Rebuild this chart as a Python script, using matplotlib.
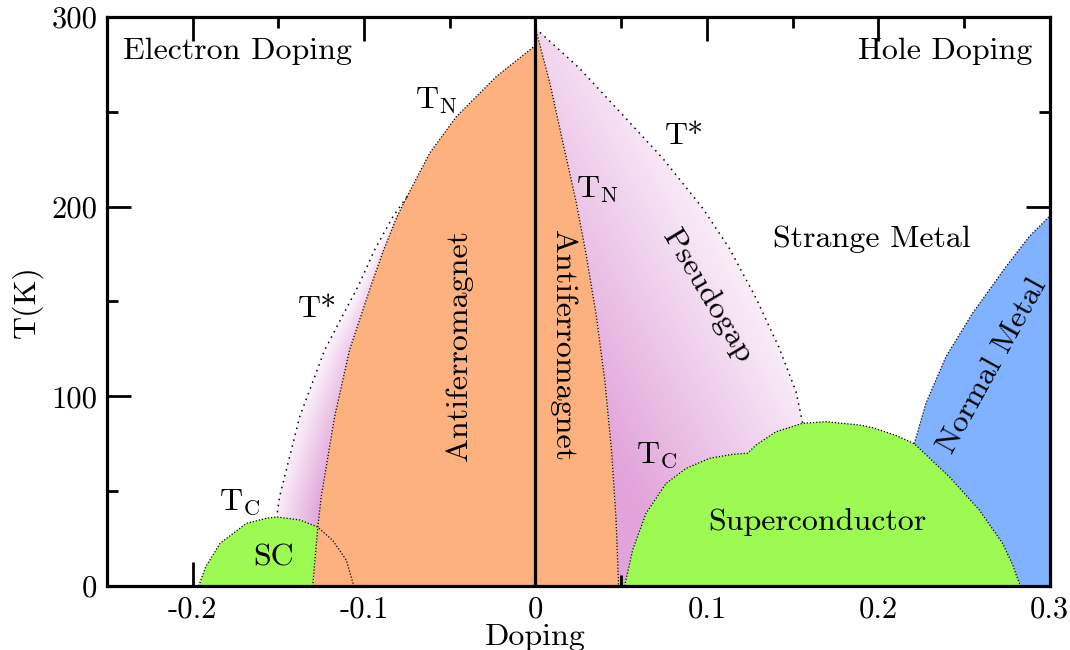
import numpy as np
import matplotlib.pyplot as plt
from matplotlib.patches import Polygon
from matplotlib.colors import to_rgb

plt.rcParams['font.family'] = 'cmr10'
plt.rcParams['mathtext.fontset'] = 'cm'
plt.rcParams['axes.unicode_minus'] = False

# Phase boundaries (doping, temperature in K)
# electron side Neel line
tn_e_x = [0.0, -0.0229, -0.0462, -0.0618, -0.0750, -0.0808, -0.0886, -0.0955, -0.1085, -0.1172, -0.125, -0.127, -0.130]
tn_e_T = [285, 268.5, 247.4, 228.1, 205.2, 194.7, 177.1, 159.6, 124.4, 89.2, 47.1, 31, 0]
# electron side pseudogap line
ts_e_x = [-0.0750, -0.0832, -0.0939, -0.1026, -0.123, -0.1376, -0.1493, -0.151]
ts_e_T = [205.2, 194.7, 177.1, 159.6, 124.4, 89.2, 47.1, 36.4]
# electron side superconducting dome
sc_e_x = [-0.1965, -0.1924, -0.184, -0.1687, -0.157, -0.151, -0.1376, -0.127, -0.1183, -0.1104, -0.106]
sc_e_T = [0, 10.2, 22.5, 33, 35.7, 36.4, 34.8, 31, 24, 13.7, 0]

# hole side Neel line
tn_h_x = [0.0, 0.0082, 0.0159, 0.0237, 0.0296, 0.0354, 0.0405, 0.0445, 0.047, 0.0485]
tn_h_T = [294, 265.8, 234.2, 202.6, 174.5, 142.9, 108, 70, 35, 0]
# hole side pseudogap line
ts_h_x = [0.0, 0.0257, 0.0509, 0.0742, 0.0976, 0.1131, 0.1287, 0.1423, 0.152, 0.1559]
ts_h_T = [294, 272.9, 248.3, 225.5, 199.1, 178, 151.7, 125.3, 102.4, 85.8]
# hole side superconducting dome
sc_h_x = [0.052, 0.0567, 0.0645, 0.0762, 0.0879, 0.1015, 0.115, 0.1238, 0.1287, 0.1403, 0.1559,
          0.1695, 0.1889, 0.1965, 0.21, 0.221, 0.2414, 0.2589, 0.2725, 0.2785, 0.2812, 0.283]
sc_h_T = [0, 19, 38.3, 54.1, 62, 67.3, 69.4, 70, 74.3, 81.3, 85.8,
          86.6, 84.9, 83.5, 79.5, 75, 57.6, 40.1, 22.5, 11, 4, 0]
# crossover to the normal metal
nm_x = [0.221, 0.2278, 0.2395, 0.255, 0.2745, 0.288, 0.2987, 0.3]
nm_T = [75, 96.3, 120.9, 143.8, 168.3, 184.1, 193.8, 195]

orange = '#FCB17E'
green = '#9CFA52'
blue = '#80B2FF'
pink = np.array(to_rgb('#E2A4DA'))
white = np.ones(3)

fig = plt.figure(figsize=(10.7, 6.5), dpi=100)
ax = fig.add_axes([0.1, 0.0985, 0.881, 0.8755])
ax.set_xlim(-0.25, 0.3)
ax.set_ylim(0, 300)


def shade(xs, ys, weight, z=1):
    poly = Polygon(np.column_stack([xs, ys]), closed=True, fc='none', ec='none')
    ax.add_patch(poly)
    x0, x1, y0, y1 = min(xs), max(xs), min(ys), max(ys)
    gx, gy = np.meshgrid(np.linspace(x0, x1, 500), np.linspace(y0, y1, 500))
    w = np.clip(weight(gx, gy), 0, 1)[..., None]
    rgb = white * (1 - w) + pink * w
    im = ax.imshow(rgb, extent=(x0, x1, y0, y1), origin='lower', aspect='auto',
                   interpolation='bilinear', zorder=z)
    im.set_clip_path(poly)


# electron pseudogap strip: darker towards the Neel line, fading upwards
def w_elec(x, T):
    order = np.argsort(ts_e_T)
    xl = np.interp(T, np.array(ts_e_T)[order], np.array(ts_e_x)[order])
    order = np.argsort(tn_e_T)
    xr = np.interp(T, np.array(tn_e_T)[order], np.array(tn_e_x)[order])
    u = np.clip((x - xl) / np.maximum(xr - xl, 1e-6), 0, 1)
    v = np.clip(1 - 0.75 * (T - 40) / 160, 0.2, 1)
    return (0.2 + 0.8 * u) * v


# hole pseudogap: linear gradient in screen space
def w_hole(x, T):
    pts = ax.transData.transform(np.column_stack([x.ravel(), T.ravel()]))
    p0 = ax.transData.transform([[0.043, 72]])[0]
    d = np.array([0.878, 0.479])
    proj = (pts - p0) @ d
    return (1 - proj / 250).reshape(x.shape)


pg_e_x = ts_e_x + sc_e_x[5:8] + tn_e_x[::-1][2:9]
pg_e_T = ts_e_T + sc_e_T[5:8] + tn_e_T[::-1][2:9]
shade(pg_e_x, pg_e_T, w_elec)

pg_h_x = tn_h_x + sc_h_x[:11] + ts_h_x[::-1]
pg_h_T = tn_h_T + sc_h_T[:11] + ts_h_T[::-1]
shade(pg_h_x, pg_h_T, w_hole)

# antiferromagnets
ax.fill(tn_e_x + [0.0], tn_e_T + [0], color=orange, lw=0, zorder=2)
ax.fill(tn_h_x + [0.0], tn_h_T + [0], color=orange, lw=0, zorder=2)

# superconductors
ax.fill(sc_e_x[:8] + [-0.130], sc_e_T[:8] + [0], color=green, lw=0, zorder=2)
ax.fill(sc_h_x, sc_h_T, color=green, lw=0, zorder=2)

# normal metal
ax.fill(nm_x + [0.3] + sc_h_x[::-1][:7], nm_T + [0] + sc_h_T[::-1][:7], color=blue, lw=0, zorder=2)

# boundaries
fine = dict(color='k', lw=0.9, ls=(0, (1, 1.5)), zorder=3)
sparse = dict(color='k', lw=1.1, ls=(0, (1, 3)), zorder=3)
ax.plot(tn_e_x, tn_e_T, **fine)
ax.plot(tn_h_x, tn_h_T, **fine)
ax.plot(sc_e_x, sc_e_T, **fine)
ax.plot(sc_h_x, sc_h_T, **fine)
ax.plot(nm_x, nm_T, **fine)
ax.plot(ts_e_x, ts_e_T, **sparse)
ax.plot(ts_h_x, ts_h_T, **sparse)
ax.plot([0, 0], [0, 300], color='k', lw=2.3, zorder=4)

fs = 23
ax.text(-0.2408, 282, 'Electron Doping', fontsize=fs, ha='left', va='center', zorder=5)
ax.text(0.2898, 282, 'Hole Doping', fontsize=fs, ha='right', va='center', zorder=5)
ax.text(-0.0577, 256, r'$\mathrm{T}_\mathrm{N}$', fontsize=fs, ha='center', va='center', zorder=5)
ax.text(0.0362, 209, r'$\mathrm{T}_\mathrm{N}$', fontsize=fs, ha='center', va='center', zorder=5)
ax.text(0.0869, 237, 'T*', fontsize=fs, ha='center', va='center', zorder=5)
ax.text(-0.127, 146, 'T*', fontsize=fs, ha='center', va='center', zorder=5)
ax.text(-0.1726, 44, r'$\mathrm{T}_\mathrm{C}$', fontsize=fs, ha='center', va='center', zorder=5)
ax.text(0.0706, 69, r'$\mathrm{T}_\mathrm{C}$', fontsize=fs, ha='center', va='center', zorder=5)
ax.text(0.1965, 183, 'Strange Metal', fontsize=fs, ha='center', va='center', zorder=5)
ax.text(0.1003, 153, 'Pseudogap', fontsize=fs, ha='center', va='center', rotation=-59,
        rotation_mode='anchor', zorder=5)
ax.text(-0.0443, 127, 'Antiferromagnet', fontsize=fs, ha='center', va='center', rotation=90,
        rotation_mode='anchor', zorder=5)
ax.text(0.0157, 127, 'Antiferromagnet', fontsize=fs, ha='center', va='center', rotation=-90,
        rotation_mode='anchor', zorder=5)
ax.text(0.2665, 116, 'Normal Metal', fontsize=fs, ha='center', va='center', rotation=61,
        rotation_mode='anchor', zorder=5)
ax.text(-0.1528, 15, 'SC', fontsize=fs, ha='center', va='center', zorder=5)
ax.text(0.1644, 33.5, 'Superconductor', fontsize=fs, ha='center', va='center', zorder=5)

# axes styling
ax.set_xticks([-0.2, -0.1, 0, 0.1, 0.2, 0.3])
ax.set_xticklabels(['-0.2', '-0.1', '0', '0.1', '0.2', '0.3'])
ax.set_xticks([-0.15, -0.05, 0.05, 0.15, 0.25], minor=True)
ax.set_yticks([0, 100, 200, 300])
ax.set_yticks([50, 150, 250], minor=True)
ax.tick_params(which='both', direction='in', top=True, right=True, width=2, labelsize=22)
ax.tick_params(which='major', length=17, pad=7)
ax.tick_params(which='minor', length=8)
for s in ax.spines.values():
    s.set_linewidth(2.3)
    s.set_zorder(6)
ax.set_xlabel('Doping', fontsize=fs)
# label sits under the zero-doping tick
ax.xaxis.set_label_coords(0.25 / 0.55, -0.066)
ax.set_ylabel('T(K)', fontsize=fs, labelpad=6)

fig.savefig('out.png', dpi=100)
